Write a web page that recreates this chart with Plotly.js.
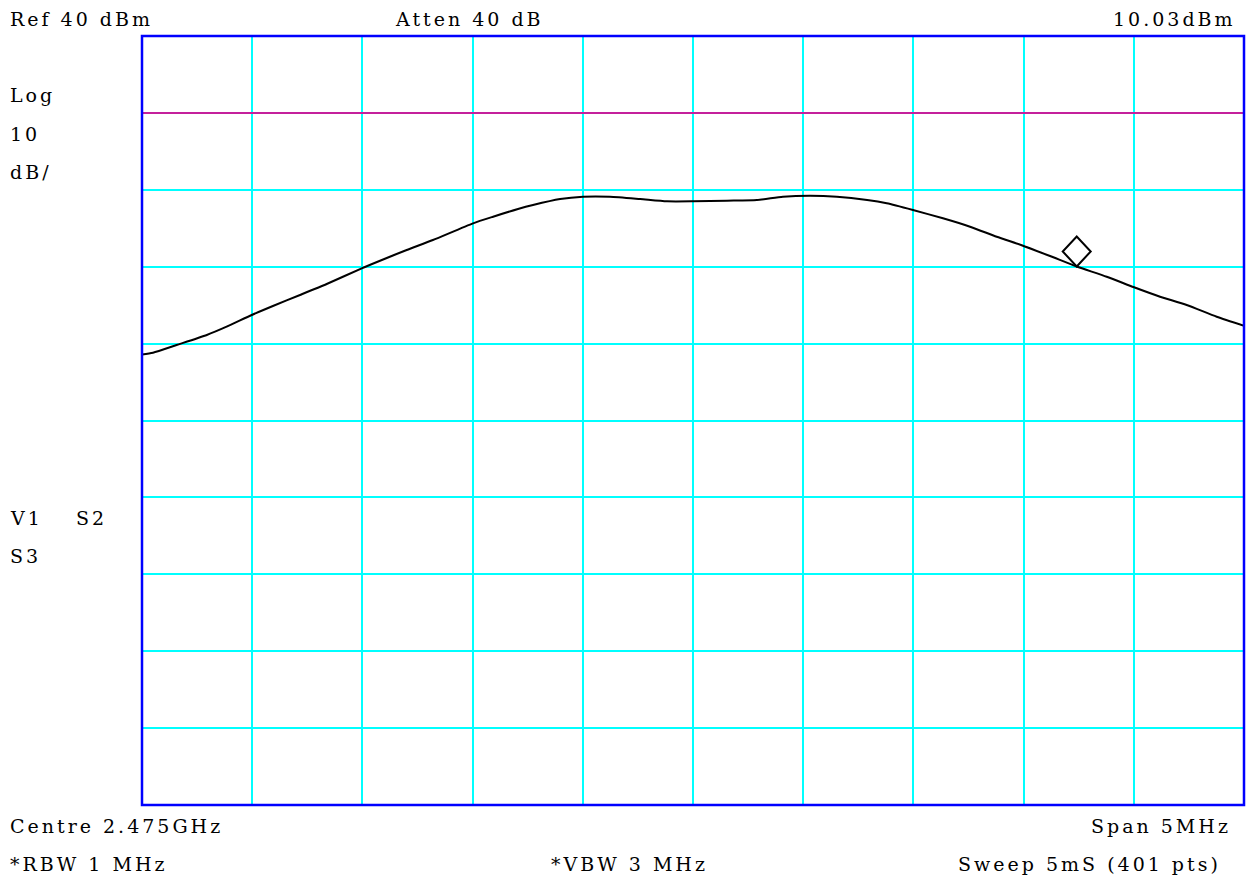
<!DOCTYPE html>
<html>
<head>
<meta charset="utf-8">
<script src="https://cdn.plot.ly/plotly-3.0.1.min.js"></script>
<style>
  html, body { margin: 0; padding: 0; background: #ffffff; }
  #plot { width: 1246px; height: 877px; }
  /* analyser-style wide lettering for the annotation texts */
  svg text { letter-spacing: 3px; }
</style>
</head>
<body>
<div id="plot"></div>
<script>
// Sweep settings
const centreMHz = 2475.0;
const spanMHz = 5.0;
const refLevel = 40;      // dBm, top of screen
const dbPerDiv = 10;
const displayLine = 30;   // dBm

// Measured trace (frequency in MHz, level in dBm)
const freqMHz = [
  2472.500, 2472.550, 2472.657, 2472.794, 2472.884, 2472.998, 2473.094, 2473.217,
  2473.338, 2473.497, 2473.580, 2473.701, 2473.820, 2474.002, 2474.093, 2474.206,
  2474.274, 2474.397, 2474.501, 2474.623, 2474.760, 2474.882, 2475.000, 2475.154,
  2475.290, 2475.408, 2475.531, 2475.653, 2475.790, 2475.879, 2475.998, 2476.134,
  2476.257, 2476.378, 2476.497, 2476.620, 2476.741, 2476.877, 2477.001, 2477.119,
  2477.240, 2477.376, 2477.500
];
const levelDBm = [
  -1.42, -1.18, -0.18, 1.12, 2.20, 3.72, 4.89, 6.32,
  7.75, 9.79, 10.78, 12.17, 13.47, 15.64, 16.50, 17.50,
  18.02, 18.80, 19.10, 19.10, 18.80, 18.50, 18.50, 18.58,
  18.67, 19.10, 19.23, 19.10, 18.67, 18.24, 17.37, 16.29,
  15.20, 13.90, 12.73, 11.39, 10.03, 8.70, 7.32, 6.10,
  5.02, 3.50, 2.33
];

// Marker
const markerFreq = 2476.741;
const markerLevel = 10.03;

// Screen annotations
const topLeftText = 'Ref 40 dBm';
const topMidText = 'Atten 40 dB';
const markerText = markerLevel.toFixed(2) + 'dBm';
const scaleTexts = ['Log', '10', 'dB/'];
const modeTexts = ['V1', 'S2', 'S3'];
const centreText = 'Centre 2.475GHz';
const spanText = 'Span 5MHz';
const rbwText = '*RBW 1 MHz';
const vbwText = '*VBW 3 MHz';
const sweepText = 'Sweep 5mS (401 pts)';

const W = 1246, H = 877;
const M = { l: 142, r: 2, t: 36, b: 72 };
const PW = W - M.l - M.r, PH = H - M.t - M.b;
const px = x => (x - M.l) / PW;
const py = y => (H - M.b - y) / PH;

const FONT = { family: 'DejaVu Serif, serif', size: 19, color: '#000000' };

function label(text, x, y, anchor) {
  return {
    text: text, xref: 'paper', yref: 'paper', x: px(x), y: py(y),
    xanchor: anchor || 'left', yanchor: 'middle', showarrow: false,
    font: FONT, borderpad: 0, borderwidth: 0
  };
}

const xMin = centreMHz - spanMHz / 2, xMax = centreMHz + spanMHz / 2;
const yMax = refLevel, yMin = refLevel - 10 * dbPerDiv;

const trace = {
  x: freqMHz, y: levelDBm, type: 'scatter', mode: 'lines',
  line: { color: '#000000', width: 2, shape: 'spline', smoothing: 0.6 },
  hoverinfo: 'skip'
};

const layout = {
  width: W, height: H,
  margin: M,
  paper_bgcolor: '#ffffff', plot_bgcolor: '#ffffff',
  showlegend: false,
  xaxis: {
    range: [xMin, xMax], dtick: spanMHz / 10, tick0: xMin,
    showgrid: true, gridcolor: '#00ffff', gridwidth: 2,
    showticklabels: false, ticks: '', zeroline: false, showline: false, fixedrange: true
  },
  yaxis: {
    range: [yMin, yMax], dtick: dbPerDiv, tick0: yMin,
    showgrid: true, gridcolor: '#00ffff', gridwidth: 2,
    showticklabels: false, ticks: '', zeroline: false, showline: false, fixedrange: true
  },
  shapes: [
    { type: 'line', xref: 'paper', yref: 'y', x0: 0, x1: 1, y0: displayLine, y1: displayLine,
      line: { color: '#c4209c', width: 2 } },
    { type: 'rect', xref: 'paper', yref: 'paper', x0: 0, x1: 1, y0: 0, y1: 1,
      line: { color: '#0000ff', width: 2.5 } },
    { type: 'path', xref: 'x', yref: 'y', xsizemode: 'pixel', ysizemode: 'pixel',
      xanchor: markerFreq, yanchor: markerLevel,
      path: 'M0,0 L14,15 L0,30 L-14,15 Z',
      line: { color: '#000000', width: 2 } }
  ],
  annotations: [
    label(topLeftText, 10, 19),
    label(topMidText, 395, 19),
    label(markerText, 1236, 19, 'right'),
    label(scaleTexts[0], 10, 95),
    label(scaleTexts[1], 10, 134),
    label(scaleTexts[2], 10, 172),
    label(modeTexts[0], 10, 518),
    label(modeTexts[1], 76, 518),
    label(modeTexts[2], 10, 556),
    label(centreText, 10, 826),
    label(spanText, 1231, 826, 'right'),
    label(rbwText, 10, 864),
    label(vbwText, 551, 864),
    label(sweepText, 1221, 864, 'right')
  ]
};

Plotly.newPlot('plot', [trace], layout, { staticPlot: true, displayModeBar: false });
</script>
</body>
</html>
